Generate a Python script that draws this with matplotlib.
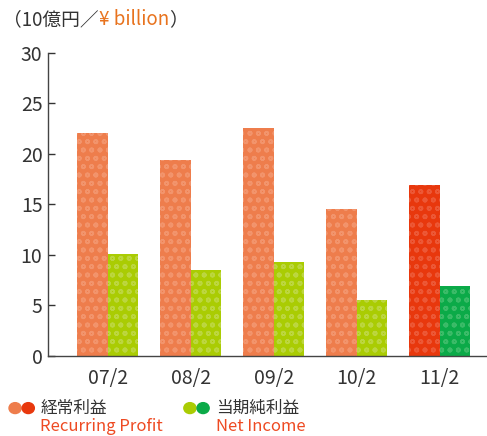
import numpy as np
import matplotlib.pyplot as plt

plt.rcParams['font.family'] = ['Noto Sans CJK JP', 'DejaVu Sans']
plt.rcParams['hatch.linewidth'] = 1.2

years = ["07/2", "08/2", "09/2", "10/2", "11/2"]
recurring = [22.1, 19.4, 22.6, 14.6, 16.9]
net_income = [10.1, 8.5, 9.3, 5.5, 6.9]

ORANGE = "#EE7D4C"
ORANGE_DOT = "#F2946C"
GREEN = "#AACC03"
GREEN_DOT = "#BCD640"
RED = "#E8380D"
RED_DOT = "#EC5836"
DGREEN = "#0BAA48"
DGREEN_DOT = "#3BBB68"
GRAY = "#333333"
TXT_ORANGE = "#E8731E"
TXT_RED = "#EE4A22"

fig = plt.figure(figsize=(4.87, 4.36), dpi=100)
ax = fig.add_axes([0.0986, 0.1835, 0.9014, 0.695])

x = np.arange(len(years))
w = 0.37
r_col = [ORANGE] * 4 + [RED]
r_dot = [ORANGE_DOT] * 4 + [RED_DOT]
n_col = [GREEN] * 4 + [DGREEN]
n_dot = [GREEN_DOT] * 4 + [DGREEN_DOT]

for i in range(len(years)):
    ax.bar(x[i] - w / 2, recurring[i], w, color=r_col[i], edgecolor=r_dot[i],
           hatch="oo", linewidth=0)
    ax.bar(x[i] + w / 2, net_income[i], w, color=n_col[i], edgecolor=n_dot[i],
           hatch="oo", linewidth=0)

ax.set_xlim(-0.72, 4.57)
ax.set_ylim(0, 30)
ax.set_yticks([0, 5, 10, 15, 20, 25, 30])
ax.set_xticks(x)
ax.set_xticklabels(years)
ax.tick_params(axis="y", direction="in", length=5, width=1, pad=4,
               labelsize=14, colors=GRAY)
ax.tick_params(axis="x", length=0, pad=9, labelsize=14, colors=GRAY)
for s in ["top", "right"]:
    ax.spines[s].set_visible(False)
for s in ["left", "bottom"]:
    ax.spines[s].set_color("#444444")
    ax.spines[s].set_linewidth(1)

# unit label
t1 = fig.text(0.006, 0.955, "（10億円／", fontsize=13.5, color=GRAY, va="center")
t2 = ax.annotate("¥ billion", xycoords=t1, xy=(1, 0), va="bottom",
                 fontsize=13.5, color=TXT_ORANGE, annotation_clip=False)
ax.annotate("）", xycoords=t2, xy=(1, 0), va="bottom",
            fontsize=13.5, color=GRAY, annotation_clip=False)

# legend
fig.patches.extend([
    plt.Circle((0.031, 0.064), 0.0125, transform=fig.transFigure, color=ORANGE),
    plt.Circle((0.058, 0.064), 0.0125, transform=fig.transFigure, color=RED),
    plt.Circle((0.39, 0.064), 0.0125, transform=fig.transFigure, color=GREEN),
    plt.Circle((0.417, 0.064), 0.0125, transform=fig.transFigure, color=DGREEN),
])
fig.text(0.083, 0.064, "経常利益", fontsize=12, color=GRAY, va="center")
fig.text(0.083, 0.021, "Recurring Profit", fontsize=12, color=TXT_RED, va="center")
fig.text(0.443, 0.064, "当期純利益", fontsize=12, color=GRAY, va="center")
fig.text(0.443, 0.021, "Net Income", fontsize=12, color=TXT_RED, va="center")

fig.savefig("out.png", dpi=100)
